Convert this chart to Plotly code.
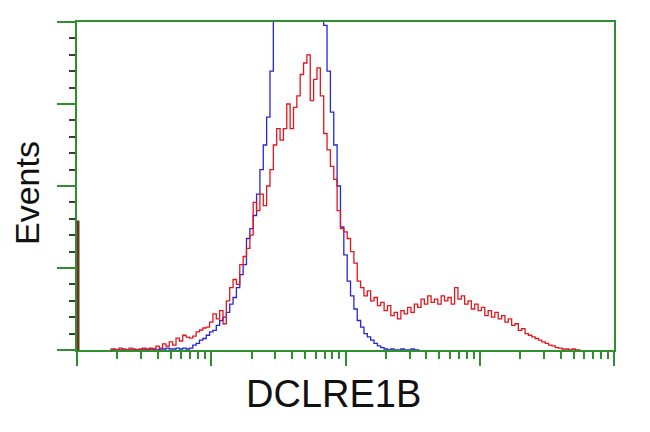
import numpy as np
import plotly.graph_objects as go

# Channel grid (log10 fluorescence, decades) shared by both histograms
grid_start = 0.25
grid_step = 0.025

red_counts = [
    0.6, 0.6, 0, 1.2, 0.6, 0, 1.2, 0.6, 0, 0.6,
    1.2, 0.6, 1.2, 0.6, 2.4, 1.2, 3.7, 2.4, 4.9, 3,
    7.3, 5.5, 9, 7.9, 7.3, 8.5, 11, 12.2, 13.4, 14,
    17, 22, 19, 24, 16, 30, 38, 43, 40, 52,
    57, 62, 70, 90, 85, 95, 88, 100, 110, 125,
    135, 128, 135, 150, 135, 148, 155, 168, 175, 180,
    152, 165, 172, 155, 132, 122, 112, 104, 85, 74,
    72, 68, 60, 53, 42, 38, 33, 36, 30, 32,
    27, 29, 24, 27, 21, 23, 19, 24, 22, 26,
    23, 28, 26, 31, 28, 33, 29, 31, 28, 33,
    30, 32, 28, 38, 31, 33, 28, 30, 25, 28,
    24, 26, 21, 24, 20, 23, 19, 21, 17, 19,
    15, 16, 12, 13, 10, 9, 8, 7, 6, 5,
    4, 3, 2.5, 1.5, 1.2, 0.6, 0.6, 0, 0.6, 0, 0,
]

blue_counts = [
    0, 0, 0, 0, 0, 0, 0, 0, 0, 0,
    0.6, 0, 0.6, 0.6, 0, 0.6, 0.6, 1.2, 0.6, 0.6,
    1.2, 0.6, 1.2, 0.6, 1.2, 3, 4, 6, 7, 9,
    11, 12, 15, 18, 20, 23, 28, 32, 38, 46,
    52, 68, 74, 82, 95, 110, 125, 142, 170, 205,
    225, 240, 255, 265, 270, 275, 280, 278, 275, 268,
    258, 245, 230, 215, 198, 170, 145, 125, 100, 75,
    58, 42, 33, 25, 18, 14, 10, 8, 6, 4,
    2.5, 1.5, 0.6, 0, 0.6, 0, 0, 0.6, 0, 0,
    0.6, 0, 0,
]

# Off-scale events piled up in the first channel of the red sample
red_first_channel_count = 79

y_max = 200
y_major = 50
y_minor = 10
decades = [1, 10, 100, 1000, 10000]

red_x = 10 ** (grid_start + grid_step * np.arange(len(red_counts)))
blue_x = 10 ** (grid_start + grid_step * np.arange(len(blue_counts)))

GREEN = "#2f8f2f"
RED = "#e3161c"
BLUE = "#2626d8"

fig = go.Figure()
fig.add_trace(go.Scatter(x=blue_x, y=blue_counts, mode="lines",
                         line=dict(color=BLUE, width=1.3, shape="hvh"),
                         showlegend=False, hoverinfo="skip"))
fig.add_trace(go.Scatter(x=red_x, y=red_counts, mode="lines",
                         line=dict(color=RED, width=1.3, shape="hvh"),
                         showlegend=False, hoverinfo="skip"))
fig.add_trace(go.Scatter(x=[decades[0], decades[0]], y=[0, red_first_channel_count],
                         mode="lines", line=dict(color="#6e3320", width=5),
                         showlegend=False, hoverinfo="skip"))

minor_x = [d * k for d in decades[:-1] for k in range(2, 10)]

# page body has an 8px default margin, so margins are compensated
fig.update_layout(
    width=650, height=432,
    margin=dict(l=69, r=44, t=14, b=90),
    paper_bgcolor="white", plot_bgcolor="white",
    font=dict(family="Liberation Sans, Arial, sans-serif", color="#111111"),
    xaxis=dict(type="log", range=[0, 4], showgrid=False, zeroline=False,
               showline=True, linecolor=GREEN, linewidth=2, mirror=True,
               tickmode="array", tickvals=decades, showticklabels=False,
               ticks="outside", ticklen=14, tickwidth=2, tickcolor=GREEN,
               minor=dict(tickmode="array", tickvals=minor_x, ticks="outside",
                          ticklen=7, tickwidth=1.5, tickcolor=GREEN, showgrid=False)),
    yaxis=dict(range=[0, y_max], showgrid=False, zeroline=False, layer="below traces",
               showline=True, linecolor=GREEN, linewidth=2, mirror=True,
               tickmode="linear", tick0=0, dtick=y_major, showticklabels=False,
               ticks="outside", ticklen=18, tickwidth=2, tickcolor=GREEN,
               minor=dict(tickmode="linear", tick0=0, dtick=y_minor, ticks="outside",
                          ticklen=6, tickwidth=1.5, tickcolor="#2b4a2b", showgrid=False)),
    annotations=[
        dict(text="DCLRE1B", xref="paper", yref="paper", x=(333 - 77) / 537,
             y=(350 - 394) / 328, xanchor="center", yanchor="middle",
             showarrow=False, font=dict(size=38, color="#111111")),
        dict(text="Events", xref="paper", yref="paper", x=(27 - 77) / 537,
             y=(350 - 193) / 328, xanchor="center", yanchor="middle", textangle=-90,
             showarrow=False, font=dict(size=34, color="#111111")),
    ],
)

fig.write_html("out.html")
